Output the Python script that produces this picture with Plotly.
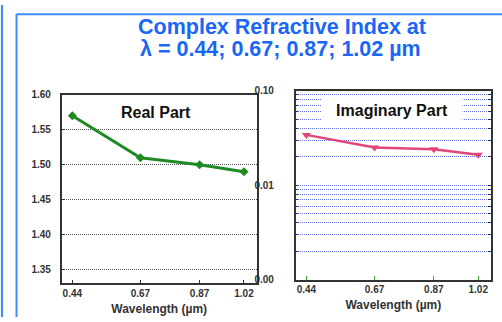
import plotly.graph_objects as go

# Wavelengths (µm) and the complex refractive index at each
wavelength = [0.44, 0.67, 0.87, 1.02]
real_part = [1.57, 1.51, 1.50, 1.49]
imag_part = [0.034, 0.025, 0.024, 0.021]

x_ticks = [0.44, 0.67, 0.87, 1.02]
x_ticktext = ["0.44", "0.67", "0.87", "1.02"]
real_ticks = [1.35, 1.40, 1.45, 1.50, 1.55, 1.60]
imag_decades = [0.001, 0.01, 0.1]
imag_decade_text = ["0.00", "0.01", "0.10"]

W, H = 502, 322


def px_x(p):
    return p / W


def px_y(p):
    return 1 - p / H


# log-axis grid: every integer multiple inside each decade
imag_grid = []
imag_text = []
for d, lab in zip(imag_decades[:-1], imag_decade_text[:-1]):
    for m in range(1, 10):
        imag_grid.append(d * m)
        imag_text.append(lab if m == 1 else "")
imag_grid.append(imag_decades[-1])
imag_text.append(imag_decade_text[-1])

fig = go.Figure()

fig.add_trace(go.Scatter(
    x=wavelength, y=real_part, mode="lines+markers",
    line=dict(color="#1f8a24", width=3),
    marker=dict(symbol="diamond", size=7, color="#1f8a24"),
    xaxis="x", yaxis="y", showlegend=False, cliponaxis=False,
))
fig.add_trace(go.Scatter(
    x=wavelength, y=imag_part, mode="lines+markers",
    line=dict(color="#e0457b", width=2.5),
    marker=dict(symbol="triangle-down", size=8, color="#e0457b"),
    xaxis="x2", yaxis="y2", showlegend=False, cliponaxis=False,
))

tick_font = dict(family="Liberation Sans, Arial", size=10, color="#333333")
axis_title_font = dict(family="Liberation Sans, Arial", size=12, color="#333333")
fine_dots = "1px,1px"

common_x = dict(
    range=[0.404, 1.063], tickvals=x_ticks,
    ticktext=[f"<b>{t}</b>" for t in x_ticktext],
    showline=True, linecolor="#333333", linewidth=1.5, mirror=True,
    ticks="inside", ticklen=4, tickwidth=1, showgrid=False, zeroline=False,
    tickfont=tick_font,
    title=dict(text="<b>Wavelength (µm)</b>", font=axis_title_font, standoff=6),
)

fig.update_layout(
    width=W, height=H,
    margin=dict(l=0, r=0, t=0, b=0),
    paper_bgcolor="white", plot_bgcolor="white",
    xaxis=dict(domain=[px_x(61.7), px_x(256.7)], anchor="y",
               tickcolor="#333333", **common_x),
    yaxis=dict(
        domain=[px_y(287.3), px_y(92.5)], anchor="x",
        range=[1.3305, 1.6002], tickvals=real_ticks,
        ticktext=[f"<b>{v:.2f}</b>" for v in real_ticks],
        showline=True, linecolor="#333333", linewidth=1.5, mirror=True,
        ticks="inside", ticklen=4, tickcolor="#333333",
        showgrid=True, gridcolor="#555555", griddash=fine_dots, gridwidth=1,
        zeroline=False, tickfont=tick_font, ticklabelstandoff=7,
    ),
    xaxis2=dict(domain=[px_x(295.7), px_x(491)], anchor="y2",
                tickcolor="#3aa83a", **common_x),
    yaxis2=dict(
        domain=[px_y(283.3), px_y(88.3)], anchor="x2",
        type="log", range=[-3, -0.999], tickvals=imag_grid,
        ticktext=[f"<b>{t}</b>" if t else "" for t in imag_text],
        showline=True, linecolor="#333333", linewidth=1.5, mirror="allticks",
        ticks="inside", ticklen=3, tickcolor="#333333",
        showgrid=True, gridcolor="#6073e6", griddash=fine_dots, gridwidth=1,
        zeroline=False, tickfont=tick_font, ticklabelstandoff=18,
    ),
)

# blue panel frame
frame = dict(color="#3b8cff", width=2)
fig.add_shape(type="line", xref="paper", yref="paper",
              x0=px_x(2), x1=px_x(2), y0=0, y1=1, line=frame)
fig.add_shape(type="line", xref="paper", yref="paper",
              x0=px_x(16.5), x1=px_x(16.5), y0=0, y1=px_y(9.5), line=frame)
fig.add_shape(type="line", xref="paper", yref="paper",
              x0=px_x(16.5), x1=1, y0=px_y(9.5), y1=px_y(9.5), line=frame)

title_font = dict(family="Liberation Sans, Arial", size=21.5, color="#1a66f5")
fig.add_annotation(text="<b>Complex Refractive Index at</b>", xref="paper", yref="paper",
                   x=px_x(281.5), y=px_y(23), showarrow=False, font=title_font,
                   xanchor="center", yanchor="middle")
fig.add_annotation(text="<b>λ = 0.44; 0.67; 0.87; 1.02 µm</b>", xref="paper", yref="paper",
                   x=px_x(280), y=px_y(45), showarrow=False, font=title_font,
                   xanchor="center", yanchor="middle")

label_font = dict(family="Liberation Sans, Arial", size=16, color="#111111")
fig.add_annotation(text="<b>Real Part</b>", xref="paper", yref="paper",
                   x=px_x(156), y=px_y(111), showarrow=False, font=label_font,
                   xanchor="center", yanchor="middle")
fig.add_annotation(text="<b>Imaginary Part</b>", xref="paper", yref="paper",
                   x=px_x(392), y=px_y(108.5), showarrow=False, font=label_font,
                   xanchor="center", yanchor="middle", bgcolor="white",
                   width=138, height=20)

fig.write_html("out.html")
